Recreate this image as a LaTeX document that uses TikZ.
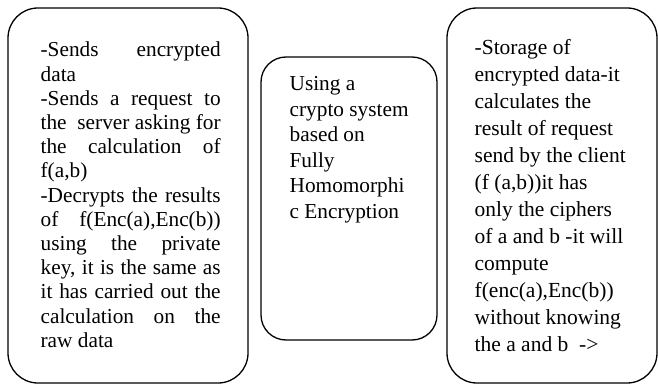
\documentclass[tikz,border=0pt]{standalone}
\usepackage{fontspec}
\setmainfont{Liberation Serif}
% one justified line of the left box
\newcommand{\jline}[1]{\makebox[\linewidth][s]{\spaceskip=0pt\xspaceskip=0pt\relax #1}}
% normal word spaces of the font
\newcommand{\wordspace}{\spaceskip=0pt\xspaceskip=0pt\relax}

\begin{document}
\begin{tikzpicture}[x=1pt, y=-1pt, line width=1.3pt,
		box/.style={draw, rounded corners=30pt},
		txt/.style={anchor=base west, inner sep=0pt}]
		\useasboundingbox (0,0) rectangle (658,385);
		% Client (links)
		\node[box, minimum width=240pt, minimum height=375pt] (client) at (128,195.5) {};
		\node[txt, text width=180pt, font=\fontsize{21.3}{24.2}\selectfont] (clienttext) at (40,57) {\wordspace
			\jline{-Sends encrypted}\\
			data\\
			\jline{-Sends a request to}\\
			\jline{the\ \ server asking for}\\
			\jline{the calculation of}\\
			f(a,b)\\
			\jline{-Decrypts the results}\\
			\jline{of f(Enc(a),Enc(b))}\\
			\jline{using the private}\\
			\jline{key, it is the same as}\\
			\jline{it has carried out the}\\
			\jline{calculation on the}\\
			raw data};
		% Kryptosystem (Mitte)
		\node[box, rounded corners=25pt, minimum width=176pt, minimum height=283pt] (crypto) at (349,198.5) {};
		\node[txt, text width=140pt, font=\fontsize{21.3}{25.5}\selectfont] (cryptotext) at (289,91) {\wordspace
			Using a\\
			crypto system\\
			based on\\
			Fully\\
			Homomorphi\\
			c Encryption};
		% Server (rechts)
		\node[box, minimum width=210pt, minimum height=375pt] (server) at (552,195.5) {};
		\node[txt, text width=170pt, font=\fontsize{21.5}{27}\selectfont] (servertext) at (474,55) {\wordspace
			-Storage of\\
			encrypted data-it\\
			calculates the\\
			result of request\\
			send by the client\\
			(f (a,b))it has\\
			only the ciphers\\
			of a and b -it will\\
			compute\\
			f(enc(a),Enc(b))\\
			without knowing\\
			the a and b\ \ ->};
	\end{tikzpicture}
\end{document}
